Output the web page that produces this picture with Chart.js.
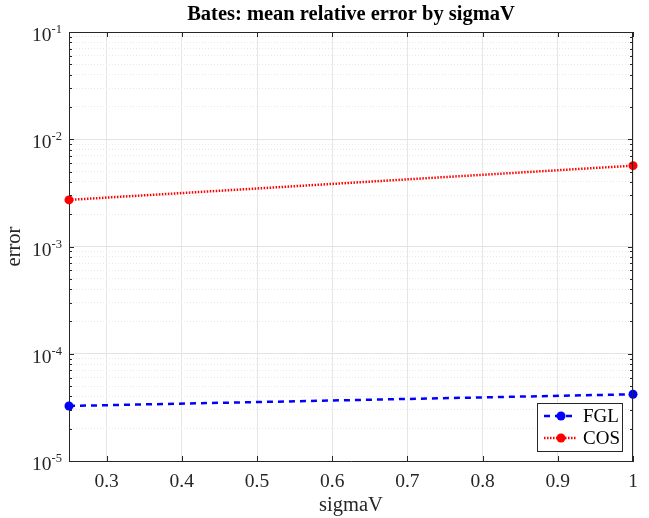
<!DOCTYPE html>
<html>
<head>
<meta charset="utf-8">
<script src="https://cdn.jsdelivr.net/npm/chart.js@4/dist/chart.umd.min.js"></script>
<style>
  html, body { margin: 0; padding: 0; background: #fff; }
  #wrap { width: 649px; height: 518px; }
</style>
</head>
<body>
<div id="wrap"><canvas id="myChart"></canvas></div>
<script>
// data
const sigmaV = [0.25, 1];
const fglError = [3.26e-5, 4.19e-5];
const cosError = [2.72e-3, 5.67e-3];
const xTickValues = [0.3, 0.4, 0.5, 0.6, 0.7, 0.8, 0.9, 1];
const yDecades = [-5, -4, -3, -2, -1];

const serif = "'Liberation Serif', 'Times New Roman', serif";
const axisColor = '#262626';

function logTicks() {
    let out = [];
    for (let e of yDecades) {
        out.push({ value: Math.pow(10, e), major: true });
        if (e === yDecades[yDecades.length - 1]) break;
        for (let m = 2; m <= 9; m++) out.push({ value: m * Math.pow(10, e), major: false });
    }
    return out;
}

// box, inward ticks, y labels with exponents, legend
const matlabAxes = {
    id: 'matlabAxes',
    afterDraw(chart) {
        let ctx = chart.ctx;
        let a = chart.chartArea;
        let xs = chart.scales.x, ys = chart.scales.y;
        ctx.save();
        ctx.strokeStyle = axisColor;
        ctx.lineWidth = 1;
        ctx.beginPath();
        ctx.moveTo(a.left, a.top + 0.5); ctx.lineTo(a.right, a.top + 0.5);
        ctx.moveTo(a.right - 0.5, a.top); ctx.lineTo(a.right - 0.5, a.bottom);
        xs.ticks.forEach(t => {
            let px = Math.round(xs.getPixelForValue(t.value)) + 0.5;
            ctx.moveTo(px, a.bottom); ctx.lineTo(px, a.bottom - 5);
            ctx.moveTo(px, a.top); ctx.lineTo(px, a.top + 5);
        });
        ys.ticks.forEach(t => {
            let py = Math.round(ys.getPixelForValue(t.value)) + 0.5;
            let len = t.major ? 5 : 3;
            ctx.moveTo(a.left, py); ctx.lineTo(a.left + len, py);
            ctx.moveTo(a.right, py); ctx.lineTo(a.right - len, py);
        });
        ctx.stroke();

        // y tick labels as 10^n
        ctx.fillStyle = axisColor;
        ctx.textBaseline = 'alphabetic';
        ys.ticks.filter(t => t.major).forEach(t => {
            let py = ys.getPixelForValue(t.value);
            let exp = String(Math.round(Math.log10(t.value)));
            ctx.font = '12.5px ' + serif;
            let ew = ctx.measureText(exp).width;
            let right = a.left - 7;
            ctx.textAlign = 'right';
            ctx.fillText(exp, right, py + 1);
            ctx.font = '19.5px ' + serif;
            ctx.fillText('10', right - ew, py + 9);
        });

        // legend inside lower right
        let bx = 537, by = 403, bw = 85, bh = 48;
        ctx.fillStyle = '#fff';
        ctx.fillRect(bx, by, bw, bh);
        ctx.strokeStyle = axisColor;
        ctx.lineWidth = 1;
        ctx.strokeRect(bx + 0.5, by + 0.5, bw, bh);
        chart.data.datasets.forEach((ds, i) => {
            let ly = by + 13 + i * 22;
            ctx.strokeStyle = ds.borderColor;
            ctx.lineWidth = ds.borderWidth;
            ctx.setLineDash(ds.borderDash);
            ctx.beginPath();
            ctx.moveTo(bx + 7, ly); ctx.lineTo(bx + 40, ly);
            ctx.stroke();
            ctx.setLineDash([]);
            ctx.fillStyle = ds.pointBackgroundColor;
            ctx.beginPath();
            ctx.arc(bx + 24, ly, ds.pointRadius, 0, Math.PI * 2);
            ctx.fill();
            ctx.fillStyle = '#000';
            ctx.font = '19px ' + serif;
            ctx.textAlign = 'left';
            ctx.textBaseline = 'middle';
            ctx.fillText(ds.label, bx + 46, ly + 1);
        });
        ctx.restore();
    }
};

let ctx = document.getElementById('myChart').getContext('2d');
new Chart(ctx, {
    type: 'line',
    data: {
        datasets: [
            {
                label: 'FGL',
                data: sigmaV.map((x, i) => ({ x: x, y: fglError[i] })),
                borderColor: '#0000ff',
                backgroundColor: '#0000ff',
                pointBackgroundColor: '#0000ff',
                pointBorderColor: '#0000ff',
                borderWidth: 2.5,
                borderDash: [6, 5],
                pointRadius: 4.5,
                pointBorderWidth: 0,
                clip: false,
                tension: 0
            },
            {
                label: 'COS',
                data: sigmaV.map((x, i) => ({ x: x, y: cosError[i] })),
                borderColor: '#ff0000',
                backgroundColor: '#ff0000',
                pointBackgroundColor: '#ff0000',
                pointBorderColor: '#ff0000',
                borderWidth: 2.5,
                borderDash: [1.5, 1.5],
                pointRadius: 4.5,
                pointBorderWidth: 0,
                clip: false,
                tension: 0
            }
        ]
    },
    plugins: [matlabAxes],
    options: {
        responsive: true,
        maintainAspectRatio: false,
        animation: false,
        layout: { padding: { left: 0, right: 16, top: 0, bottom: 0 } },
        plugins: {
            legend: { display: false },
            tooltip: { enabled: false },
            title: {
                display: true,
                text: 'Bates: mean relative error by sigmaV',
                fullSize: false,
                color: '#000',
                font: { family: serif, size: 20.5, weight: 'bold', lineHeight: 1.2 },
                padding: { top: 2, bottom: 5.4 }
            }
        },
        scales: {
            x: {
                type: 'linear',
                min: 0.25,
                max: 1,
                afterBuildTicks: scale => {
                    scale.ticks = xTickValues.map(v => ({ value: v }));
                },
                afterFit: scale => { scale.height = 57; },
                ticks: {
                    color: axisColor,
                    font: { family: serif, size: 19.5 },
                    padding: 9,
                    maxRotation: 0,
                    callback: v => String(v)
                },
                grid: { color: '#e6e6e6', lineWidth: 1, drawTicks: false },
                border: { color: axisColor, width: 1 },
                title: {
                    display: true,
                    text: 'sigmaV',
                    color: axisColor,
                    font: { family: serif, size: 20.5 },
                    padding: { top: 0, bottom: 0 }
                }
            },
            y: {
                type: 'logarithmic',
                min: 1e-5,
                max: 1e-1,
                afterBuildTicks: scale => { scale.ticks = logTicks(); },
                afterFit: scale => { scale.width = 69; },
                ticks: { display: false },
                grid: {
                    drawTicks: false,
                    lineWidth: 1,
                    color: c => (c.tick && c.tick.major) ? '#e3e3e3' : '#e8e8e8'
                },
                border: {
                    color: axisColor,
                    width: 1,
                    dash: c => (c.tick && !c.tick.major) ? [1, 2] : []
                },
                title: {
                    display: true,
                    text: 'error',
                    color: axisColor,
                    font: { family: serif, size: 20.5 },
                    padding: { top: 2, bottom: 0 }
                }
            }
        }
    }
});
</script>
</body>
</html>
